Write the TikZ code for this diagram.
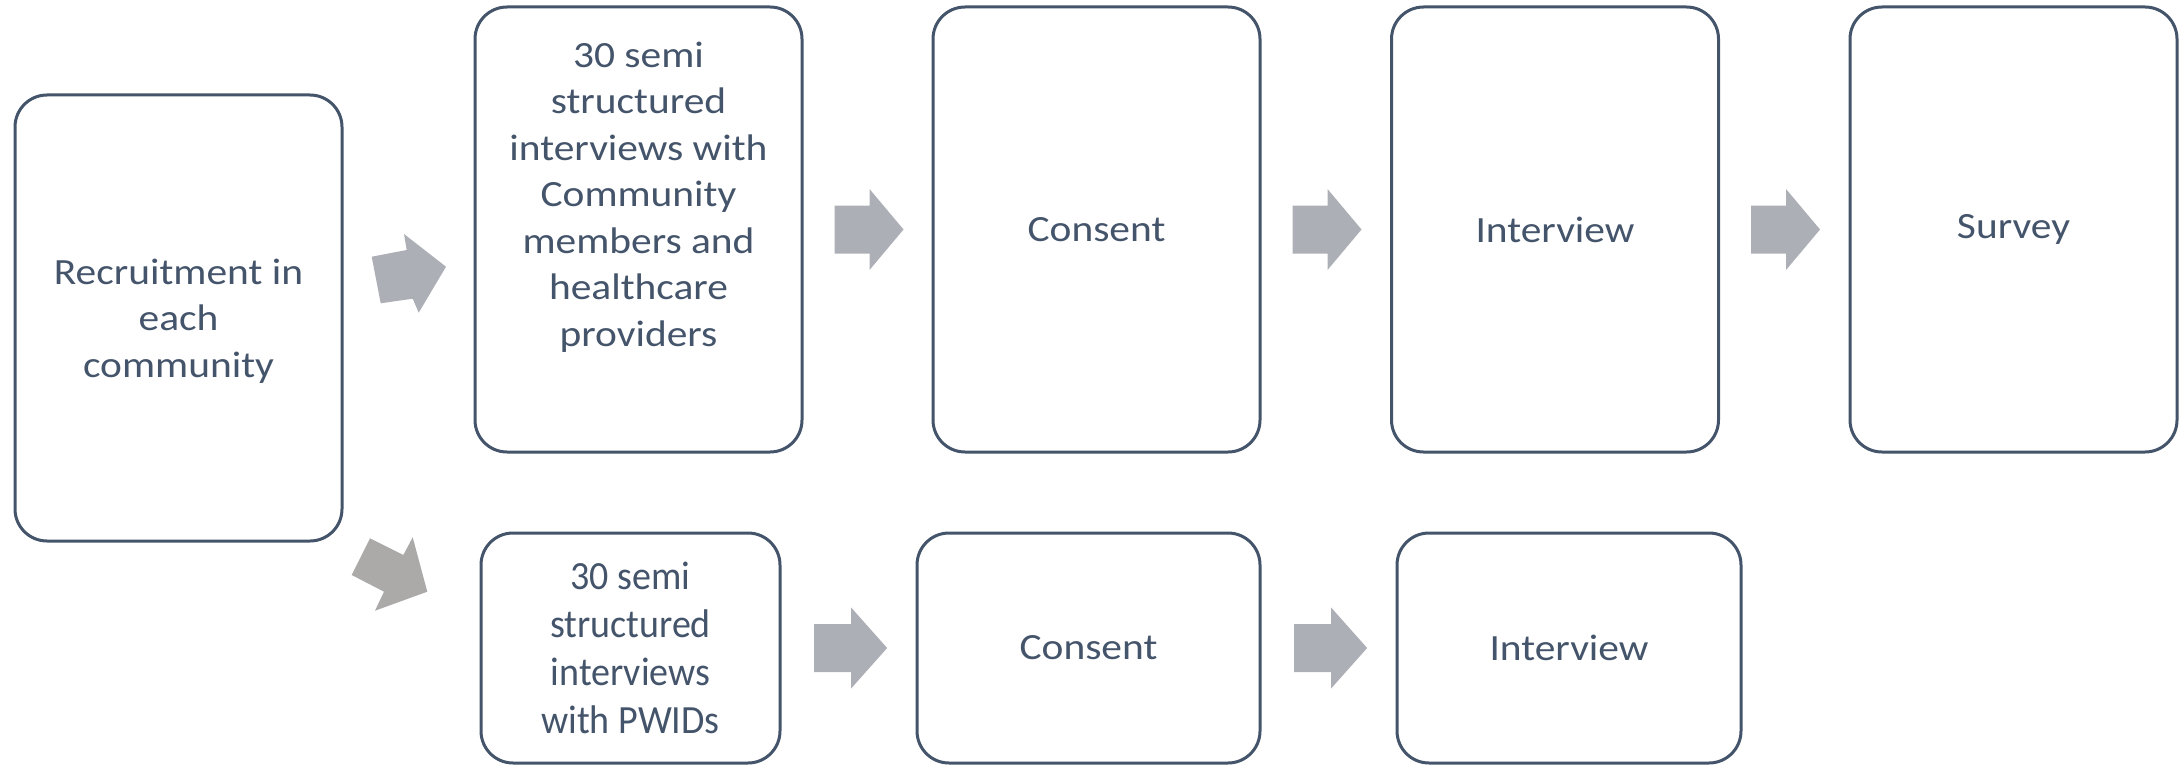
\documentclass[tikz,border=0pt]{standalone}
\usepackage{fontspec}
\setmainfont{Carlito}
\newfontfamily\boxfont[FakeStretch=1.12]{Carlito}
\newfontfamily\narrowfont[FakeStretch=0.95]{Carlito}
\usetikzlibrary{calc}
\definecolor{lineblue}{HTML}{44546A}
\definecolor{arrowgrey}{HTML}{ADAFB6}
\definecolor{arrowgreyb}{HTML}{ACA9A9}
\tikzset{
  box/.style={draw=lineblue, line width=3pt, rounded corners=32pt, fill=white,
    align=center, text=lineblue, inner sep=0pt},
  topbox/.style={box, minimum width=327pt, minimum height=445pt},
  lowbox/.style={box, minimum height=230pt},
  txt/.style={font=\boxfont\fontsize{37}{46.5}\selectfont, text=lineblue, align=center},
  narrowtxt/.style={font=\narrowfont\fontsize{40}{48}\selectfont, text=lineblue, align=center},
  harrow/.pic={\fill[arrowgrey] (0,-24) -- (35,-24) -- (35,-40.5) -- (69,0) -- (35,40.5) -- (35,24) -- (0,24) -- cycle;}
}
\begin{document}
\begin{tikzpicture}[x=1pt,y=-1pt]
\useasboundingbox (0,0) rectangle (2179,765);
% top row
\node[topbox, minimum height=446pt] (b1) at (178.5,318) {};
\node[txt] (t1) at (178.5,321) {Recruitment in\\each\\community};
\node[topbox] (b2) at (638.5,229.5) {};
\node[txt] (t2) at (638.5,197) {30 semi\\structured\\interviews with\\Community\\members and\\healthcare\\providers};
\node[topbox, txt] (b3) at (1096.5,229.5) {Consent};
\node[topbox, txt] (b4) at (1555,229.5) {Interview};
\node[topbox, txt] (b5) at (2013.5,229.5) {Survey};
% bottom row
\node[lowbox, minimum width=299pt, narrowtxt] (b6) at (630.5,648) {30 semi\\structured\\interviews\\with PWIDs};
\node[lowbox, minimum width=343pt, txt] (b7) at (1088.5,648) {Consent};
\node[lowbox, minimum width=344pt, txt] (b8) at (1569,648) {Interview};
% block arrows
\pic at ($(b2.east)+(31,0)$) {harrow};
\pic at ($(b3.east)+(31,0)$) {harrow};
\pic at ($(b4.east)+(31,0)$) {harrow};
\pic[xscale=1.06] at ($(b6.east)+(32.5,0)$) {harrow};
\pic[xscale=1.06] at ($(b7.east)+(32.5,0)$) {harrow};
% diagonal arrows from the recruitment box
\fill[arrowgrey] (371.7,256.7) -- (406.7,250) -- (404,234) -- (446,266.7) -- (418.7,312.7) -- (412.7,298.7) -- (380.7,303.3) -- cycle;
\fill[arrowgreyb] (370,538.3) -- (403.3,555) -- (412.7,537.3) -- (427.3,591.7) -- (375,610.7) -- (384,591.7) -- (351.7,575) -- cycle;
\end{tikzpicture}
\end{document}
